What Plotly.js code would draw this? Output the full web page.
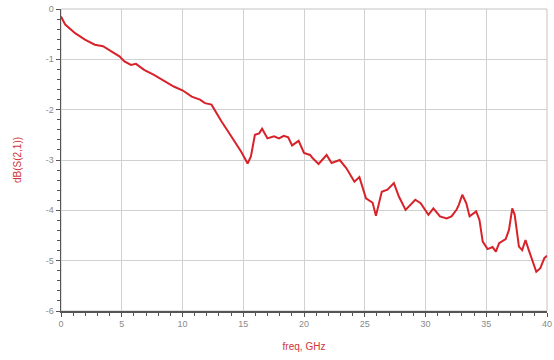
<!DOCTYPE html>
<html>
<head>
<meta charset="utf-8">
<script src="https://cdn.plot.ly/plotly-3.0.1.min.js"></script>
<style>html,body{margin:0;padding:0;background:#fff;}#chart{width:554px;height:360px;}</style>
</head>
<body>
<div id="chart"></div>
<script>
const freqGHz = [0,0.35,1.16,1.97,2.78,3.46,4.14,4.81,5.22,5.76,6.17,6.84,7.65,8.47,9.28,10.03,10.76,11.44,11.85,12.39,12.79,13.2,13.74,14.28,14.82,15.36,15.63,15.96,16.31,16.55,16.99,17.53,17.94,18.34,18.7,19.02,19.56,20.0,20.5,20.7,21.2,21.86,22.27,22.94,23.48,24.15,24.56,25.1,25.65,25.92,26.4,26.87,27.4,27.8,28.36,29.16,29.6,30.24,30.65,31.19,31.74,32.14,32.55,32.74,33.03,33.36,33.63,34.17,34.44,34.71,35.11,35.52,35.79,36.06,36.6,36.87,37.14,37.34,37.69,37.96,38.23,38.5,38.77,39.12,39.45,39.78,40];
const dBS21 = [-0.15,-0.31,-0.48,-0.61,-0.71,-0.74,-0.84,-0.94,-1.04,-1.11,-1.09,-1.21,-1.31,-1.43,-1.54,-1.62,-1.74,-1.80,-1.87,-1.90,-2.07,-2.23,-2.43,-2.63,-2.83,-3.07,-2.93,-2.50,-2.47,-2.38,-2.57,-2.53,-2.57,-2.52,-2.55,-2.71,-2.62,-2.86,-2.90,-2.96,-3.08,-2.90,-3.06,-3.00,-3.16,-3.43,-3.34,-3.76,-3.85,-4.11,-3.63,-3.59,-3.46,-3.72,-3.99,-3.79,-3.86,-4.09,-3.96,-4.12,-4.16,-4.12,-3.99,-3.89,-3.69,-3.86,-4.12,-4.02,-4.19,-4.62,-4.77,-4.73,-4.82,-4.65,-4.57,-4.39,-3.96,-4.09,-4.72,-4.79,-4.59,-4.79,-4.97,-5.22,-5.15,-4.95,-4.90];
const xTicks = [0,5,10,15,20,25,30,35,40];
const yTicks = [0,-1,-2,-3,-4,-5,-6];

const tickFont = {family: 'Liberation Sans, Arial, sans-serif', size: 9, color: '#8a8a8a'};
const titleFont = {family: 'Liberation Sans, Arial, sans-serif', size: 10, color: '#d0343a'};

Plotly.newPlot('chart', [{
  x: freqGHz, y: dBS21, type: 'scatter', mode: 'lines',
  line: {color: '#d8222a', width: 2}
}], {
  width: 554, height: 360,
  margin: {l: 61, r: 7, t: 9, b: 49},
  paper_bgcolor: '#fff', plot_bgcolor: '#fff',
  showlegend: false,
  xaxis: {
    range: [0, 40], tickmode: 'array', tickvals: xTicks, ticktext: xTicks.map(String),
    ticklabeloverflow: 'allow',
    showgrid: true, gridcolor: '#d0d0d0', gridwidth: 1, zeroline: false,
    showline: true, linecolor: '#555', linewidth: 1.5,
    ticks: 'outside', ticklen: 4, tickcolor: '#555', tickwidth: 1,
    minor: {dtick: 1, ticks: 'outside', ticklen: 3, tickcolor: '#555', showgrid: false},
    tickfont: tickFont,
    title: {text: 'freq, GHz', font: titleFont, standoff: 14}
  },
  yaxis: {
    range: [-6, 0], tickmode: 'array', tickvals: yTicks, ticktext: yTicks.map(String),
    showgrid: true, gridcolor: '#d0d0d0', gridwidth: 1, zeroline: false,
    showline: true, linecolor: '#555', linewidth: 1.5,
    ticks: 'outside', ticklen: 4, tickcolor: '#555', tickwidth: 1,
    minor: {dtick: 0.2, ticks: 'outside', ticklen: 3, tickcolor: '#555', showgrid: false},
    tickfont: tickFont,
    title: {text: 'dB(S(2,1))', font: titleFont, standoff: 22}
  },
  shapes: [{type: 'rect', xref: 'paper', yref: 'paper', x0: 0, x1: 1, y0: 0, y1: 1,
    line: {color: '#c4c4c4', width: 1}, layer: 'below'}]
}, {displayModeBar: false, staticPlot: true});
</script>
</body>
</html>
